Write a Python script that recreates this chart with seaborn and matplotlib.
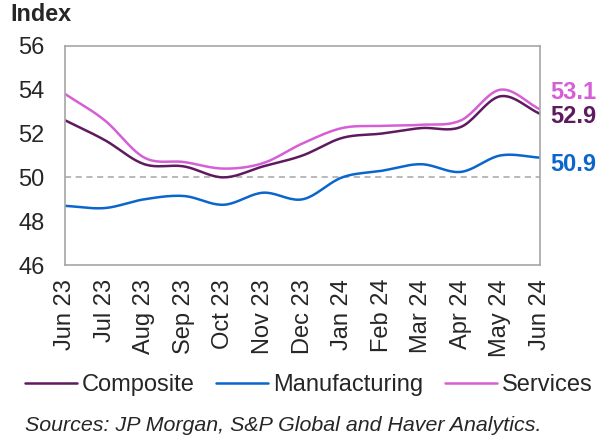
import numpy as np
import pandas as pd
import matplotlib
matplotlib.use("Agg")
import matplotlib.pyplot as plt
import seaborn as sns

# === data ===
months = ["Jun 23", "Jul 23", "Aug 23", "Sep 23", "Oct 23", "Nov 23", "Dec 23",
          "Jan 24", "Feb 24", "Mar 24", "Apr 24", "May 24", "Jun 24"]
composite = [52.6, 51.7, 50.6, 50.5, 50.0, 50.5, 51.0, 51.8, 52.0, 52.25, 52.3, 53.7, 52.9]
manufacturing = [48.7, 48.6, 49.0, 49.15, 48.75, 49.3, 49.0, 50.0, 50.3, 50.6, 50.25, 51.0, 50.9]
services = [53.8, 52.6, 50.9, 50.7, 50.4, 50.65, 51.55, 52.25, 52.35, 52.4, 52.6, 54.0, 53.1]

colors = {"Composite": "#5e1a5e", "Manufacturing": "#0a66cc", "Services": "#d65fd6"}

sns.set_style("white")
plt.rcParams["font.family"] = ["Liberation Sans", "DejaVu Sans"]


# smoothed line like the spreadsheet's "smooth line" option
def smooth(y, n=20):
    y = np.asarray(y, dtype=float)
    p = np.concatenate([[2 * y[0] - y[1]], y, [2 * y[-1] - y[-2]]])
    xs, ys = [], []
    for i in range(len(y) - 1):
        p0, p1, p2, p3 = p[i], p[i + 1], p[i + 2], p[i + 3]
        t = np.linspace(0, 1, n, endpoint=False)
        v = 0.5 * (2 * p1 + (-p0 + p2) * t + (2 * p0 - 5 * p1 + 4 * p2 - p3) * t ** 2
                   + (-p0 + 3 * p1 - 3 * p2 + p3) * t ** 3)
        xs.extend(i + t)
        ys.extend(v)
    xs.append(len(y) - 1)
    ys.append(y[-1])
    return np.array(xs), np.array(ys)


rows = []
for name, vals in [("Composite", composite), ("Manufacturing", manufacturing), ("Services", services)]:
    xs, ys = smooth(vals)
    rows.append(pd.DataFrame({"x": xs, "value": ys, "series": name}))
df = pd.concat(rows)

fig = plt.figure(figsize=(6.04, 4.41), dpi=100)
ax = fig.add_axes([0.108, 0.399, 0.786, 0.497])

sns.lineplot(data=df, x="x", y="value", hue="series", palette=colors,
             linewidth=1.8, ax=ax, legend=False, estimator=None, sort=False)
ax.axhline(50, color="#a6a6a6", linestyle=(0, (4, 3)), linewidth=1.1, zorder=0)

ax.set_xlim(0, len(months) - 1)
ax.set_ylim(46, 56)
ax.set_yticks([46, 48, 50, 52, 54, 56])
ax.set_xticks(range(len(months)))
ax.set_xticklabels(months, rotation=90)
ax.tick_params(axis="both", labelsize=17, length=0)
ax.tick_params(axis="y", pad=15)
ax.tick_params(axis="x", pad=10)
ax.set_xlabel("")
ax.set_ylabel("")
for s in ax.spines.values():
    s.set_color("#a6a6a6")
    s.set_linewidth(1.2)

# end labels
yt = ax.get_yaxis_transform()
ax.text(1.022, 53.85, f"{services[-1]:.1f}", color=colors["Services"], transform=yt,
        fontsize=17, fontweight="bold", va="center")
ax.text(1.022, 52.8, f"{composite[-1]:.1f}", color=colors["Composite"], transform=yt,
        fontsize=17, fontweight="bold", va="center")
ax.text(1.022, 50.6, f"{manufacturing[-1]:.1f}", color=colors["Manufacturing"], transform=yt,
        fontsize=17, fontweight="bold", va="center")

fig.text(0.018, 0.968, "Index", fontsize=16.8, fontweight="bold", va="center")

handles = [plt.Line2D([], [], color=colors[k], linewidth=1.8) for k in colors]
fig.legend(handles, list(colors), loc="center", bbox_to_anchor=(0.511, 0.127), ncol=3,
           frameon=False, fontsize=17, handlelength=2.2, handletextpad=0.2, columnspacing=0.93)

fig.text(0.041, 0.036, "Sources: JP Morgan, S&P Global and Haver Analytics.", fontsize=15.4,
         style="italic", va="center")

fig.savefig("out.png", dpi=100)
